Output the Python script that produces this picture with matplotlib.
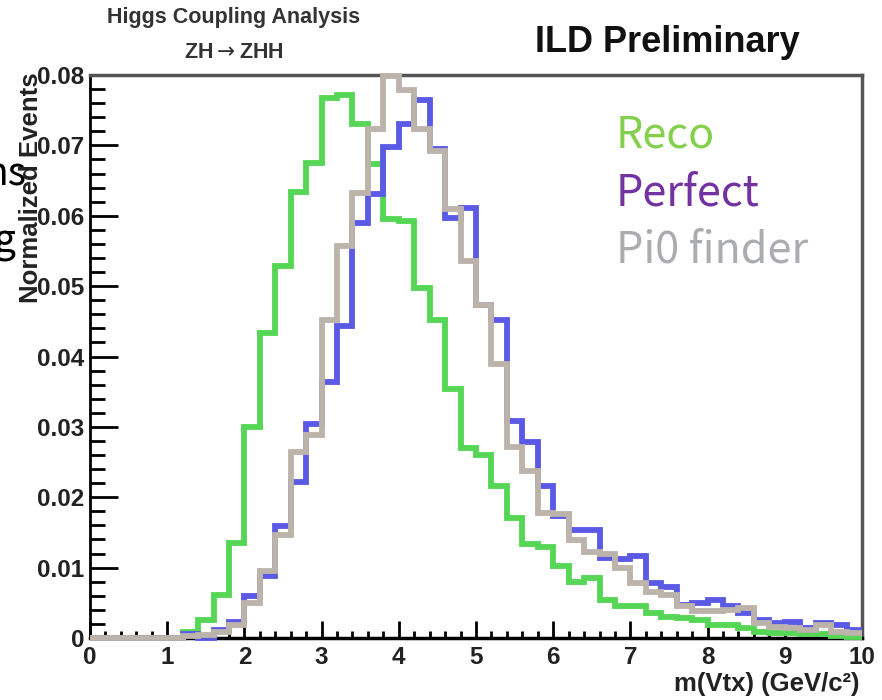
import numpy as np
import matplotlib
matplotlib.use("Agg")
import matplotlib.pyplot as plt
from matplotlib.ticker import MultipleLocator, FixedLocator, FixedFormatter

# bin layout of the histograms (50 bins from 0 to 10 GeV)
x_lo, x_hi, n_bins = 0.0, 10.0, 50

# normalized bin contents
reco = [0, 0, 0, 0, 0, 0, 0.0009, 0.0026, 0.0061, 0.0135,
        0.0300, 0.0433, 0.0528, 0.0634, 0.0675, 0.0768, 0.0772, 0.0730, 0.0673, 0.0595,
        0.0592, 0.0497, 0.0452, 0.0354, 0.0270, 0.0260, 0.0216, 0.0171, 0.0133, 0.0129,
        0.0103, 0.0080, 0.0085, 0.0054, 0.0045, 0.0045, 0.0035, 0.0030, 0.0028, 0.0026,
        0.0019, 0.0019, 0.0014, 0.0009, 0.0007, 0.0007, 0.0005, 0.0005, 0.0003, 0.0002]
perfect = [0, 0, 0, 0, 0, 0, 0.0005, 0.0, 0.0011, 0.0023,
           0.0059, 0.0088, 0.0159, 0.0221, 0.0304, 0.0364, 0.0443, 0.0590, 0.0631, 0.0697,
           0.0730, 0.0764, 0.0695, 0.0597, 0.0611, 0.0473, 0.0452, 0.0309, 0.0278, 0.0216,
           0.0173, 0.0153, 0.0153, 0.0114, 0.0112, 0.0116, 0.0078, 0.0073, 0.0047, 0.0050,
           0.0054, 0.0045, 0.0036, 0.0025, 0.0021, 0.0023, 0.0014, 0.0021, 0.0019, 0.0011]
pi0 = [0, 0, 0, 0, 0, 0, 0.0003, 0.0004, 0.0009, 0.0019,
       0.0050, 0.0095, 0.0147, 0.0264, 0.0288, 0.0452, 0.0557, 0.0633, 0.0723, 0.0798,
       0.0778, 0.0723, 0.0692, 0.0609, 0.0535, 0.0473, 0.0390, 0.0271, 0.0238, 0.0178,
       0.0176, 0.0139, 0.0122, 0.0119, 0.0100, 0.0078, 0.0066, 0.0061, 0.0045, 0.0038,
       0.0038, 0.0040, 0.0042, 0.0021, 0.0016, 0.0014, 0.0011, 0.0019, 0.0009, 0.0007]

series_names = ["Reco", "Perfect", "Pi0 finder"]
line_colors = ["#55d655", "#5a5ae6", "#bcb3aa"]
label_colors = ["#84cf4c", "#7232a2", "#aaacb0"]

y_ticks = [0, 0.01, 0.02, 0.03, 0.04, 0.05, 0.06, 0.07, 0.08]
y_tick_labels = ["0", "0.01", "0.02", "0.03", "0.04", "0.05", "0.06", "0.07", "0.08"]
x_ticks = [0, 1, 2, 3, 4, 5, 6, 7, 8, 9, 10]

W, H = 882, 700
bold = dict(family=["Liberation Sans", "DejaVu Sans"], weight="bold")

fig = plt.figure(figsize=(W / 100, H / 100), dpi=100)
ax = fig.add_axes([90 / W, 1 - 638 / H, (862 - 90) / W, (638 - 75) / H])

edges = np.linspace(x_lo, x_hi, n_bins + 1)
for vals, col in zip([reco, perfect, pi0], line_colors):
    ax.stairs(vals, edges, color=col, linewidth=4.2, baseline=None,
              zorder=3, clip_on=False)

ax.set_xlim(x_lo, x_hi)
ax.set_ylim(0, 0.08)

# ROOT style frame
for side in ["top", "right"]:
    ax.spines[side].set_color("#555555")
    ax.spines[side].set_linewidth(2.5)
ax.spines["left"].set_color("black")
ax.spines["left"].set_linewidth(2)
ax.spines["bottom"].set_color("black")
ax.spines["bottom"].set_linewidth(2.5)

ax.xaxis.set_major_locator(FixedLocator(x_ticks))
ax.xaxis.set_minor_locator(MultipleLocator(0.2))
ax.yaxis.set_major_locator(FixedLocator(y_ticks))
ax.yaxis.set_major_formatter(FixedFormatter(y_tick_labels))
ax.yaxis.set_minor_locator(MultipleLocator(0.002))
ax.tick_params(axis="x", which="major", direction="in", length=12, width=2, pad=6)
ax.tick_params(axis="x", which="minor", direction="in", length=5, width=2)
ax.tick_params(axis="y", which="major", direction="in", length=20, width=2, pad=4)
ax.tick_params(axis="y", which="minor", direction="in", length=11, width=2)
for lab in ax.get_xticklabels() + ax.get_yticklabels():
    lab.set_fontfamily(["Liberation Sans", "DejaVu Sans"])
    lab.set_fontweight("bold")
    lab.set_fontsize(17.5)
    lab.set_color("#222222")

# axis titles
fig.text(859 / W, 1 - 684 / H, "m(Vtx) (GeV/c²)", ha="right", va="center",
         fontsize=18.5, color="#222222", **bold)
fig.text(31 / W, 1 - 72 / H, "Normalized Events", rotation=90, ha="center", va="top",
         fontsize=18.5, color="#222222", **bold)

# headers
fig.text(234 / W, 1 - 18 / H, "Higgs Coupling Analysis", ha="center", va="center",
         fontsize=15.5, color="#333333", **bold)
fig.text(234 / W, 1 - 53 / H, r"ZH$\rightarrow$ZHH", ha="center", va="center",
         fontsize=15.5, color="#333333", **bold)
fig.text(667 / W, 1 - 42 / H, "ILD Preliminary", ha="center", va="center",
         fontsize=26, color="#111111", **bold)

# coloured legend text
for i, (name, col) in enumerate(zip(series_names, label_colors)):
    fig.text(616 / W, 1 - (147 + 58 * i) / H, name, ha="left", va="baseline",
             fontsize=31, color=col, family=["Noto Sans CJK JP", "DejaVu Sans"])

# pieces of slide text cut off at the left edge
fig.text(26 / W, 1 - 186 / H, "ns", ha="right", va="baseline", fontsize=28,
         color="black", family=["Noto Sans CJK JP", "DejaVu Sans"], zorder=0)
fig.text(16 / W, 1 - 252 / H, "g", ha="right", va="baseline", fontsize=28,
         color="black", family=["Noto Sans CJK JP", "DejaVu Sans"], zorder=0)

fig.savefig("out.png", dpi=100)
